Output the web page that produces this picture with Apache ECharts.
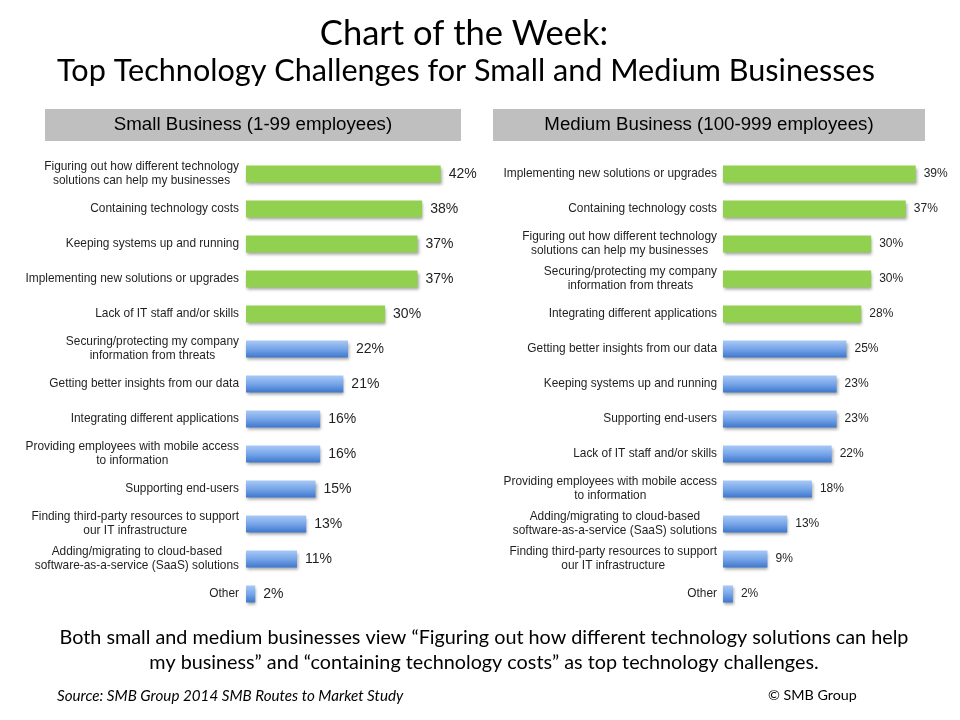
<!DOCTYPE html>
<html>
<head>
<meta charset="utf-8">
<title>Top Technology Challenges for Small and Medium Businesses</title>
<script src="https://cdn.jsdelivr.net/npm/echarts@6/dist/echarts.min.js"></script>
<style>
  html, body { margin: 0; padding: 0; background: #fff; }
  #chart { width: 960px; height: 720px; }
</style>
</head>
<body>
<div id="chart"></div>
<script>
// small business (1-99 employees)
const smallLabels = [
  'Figuring out how different technology\nsolutions can help my businesses',
  'Containing technology costs',
  'Keeping systems up and running',
  'Implementing new solutions or upgrades',
  'Lack of IT staff and/or skills',
  'Securing/protecting my company\ninformation from threats',
  'Getting better insights from our data',
  'Integrating different applications',
  'Providing employees with mobile access\nto information',
  'Supporting end-users',
  'Finding third-party resources to support\nour IT infrastructure',
  'Adding/migrating to cloud-based\nsoftware-as-a-service (SaaS) solutions',
  'Other'
]
const smallValues = [42, 38, 37, 37, 30, 22, 21, 16, 16, 15, 13, 11, 2]

// medium business (100-999 employees)
const mediumLabels = [
  'Implementing new solutions or upgrades',
  'Containing technology costs',
  'Figuring out how different technology\nsolutions can help my businesses',
  'Securing/protecting my company\ninformation from threats',
  'Integrating different applications',
  'Getting better insights from our data',
  'Keeping systems up and running',
  'Supporting end-users',
  'Lack of IT staff and/or skills',
  'Providing employees with mobile access\nto information',
  'Adding/migrating to cloud-based\nsoftware-as-a-service (SaaS) solutions',
  'Finding third-party resources to support\nour IT infrastructure',
  'Other'
]
const mediumValues = [39, 37, 30, 30, 28, 25, 23, 23, 22, 18, 13, 9, 2]

// top five are green, the rest blue
const topCount = 5

const chart = echarts.init(document.getElementById('chart'))

const green = '#92d050'
const blue = new echarts.graphic.LinearGradient(0, 0, 0, 1, [
  { offset: 0, color: '#a8c9f6' },
  { offset: 0.5, color: '#77a5e8' },
  { offset: 1, color: '#3d77cd' }
])
const textColor = '#1f1f1f'
const arial = 'Arial, "Liberation Sans", sans-serif'
const calibri = 'Lato, "Open Sans", sans-serif'

function barData(values) {
  return values.map((v, i) => ({
    value: v,
    itemStyle: { color: i < topCount ? green : blue }
  }))
}

// multi-line labels centred inside their block
function catLabel(value) {
  return value.split('\n').map((s) => '{c|' + s + '}').join('\n')
}

const labelRich = {
  c: { align: 'center', fontSize: 11.9, lineHeight: 14, color: textColor, fontFamily: arial }
}

const barShadow = {
  shadowColor: 'rgba(0, 0, 0, 0.35)',
  shadowBlur: 3,
  shadowOffsetX: 1,
  shadowOffsetY: 2
}

const option = {
  backgroundColor: '#fff',
  animation: false,
  title: [
    {
      text: 'Chart of the Week:',
      left: 459, top: 11, textAlign: 'center',
      textStyle: { fontFamily: calibri, fontWeight: 'normal', fontSize: 34.5, color: '#000' }
    },
    {
      text: 'Top Technology Challenges for Small and Medium Businesses',
      left: 461, top: 51, textAlign: 'center',
      textStyle: { fontFamily: calibri, fontWeight: 'normal', fontSize: 30.6, color: '#000' }
    }
  ],
  grid: [
    { left: 246, top: 156.5, width: 231.8, height: 455 },
    { left: 723, top: 156.5, width: 222.3, height: 455 }
  ],
  xAxis: [
    { type: 'value', gridIndex: 0, min: 0, max: 50, show: false },
    { type: 'value', gridIndex: 1, min: 0, max: 45, show: false }
  ],
  yAxis: [
    {
      type: 'category', gridIndex: 0, data: smallLabels, inverse: true,
      axisLine: { show: false }, axisTick: { show: false },
      axisLabel: { margin: 7, formatter: catLabel, rich: labelRich }
    },
    {
      type: 'category', gridIndex: 1, data: mediumLabels, inverse: true,
      axisLine: { show: false }, axisTick: { show: false },
      axisLabel: { margin: 6, formatter: catLabel, rich: labelRich }
    }
  ],
  series: [
    {
      name: 'Small Business',
      type: 'bar',
      xAxisIndex: 0, yAxisIndex: 0,
      barWidth: 17,
      data: barData(smallValues),
      itemStyle: barShadow,
      label: {
        show: true, position: 'right', distance: 8, formatter: '{c}%',
        fontSize: 14, color: textColor, fontFamily: arial
      }
    },
    {
      name: 'Medium Business',
      type: 'bar',
      xAxisIndex: 1, yAxisIndex: 1,
      barWidth: 17,
      data: barData(mediumValues),
      itemStyle: barShadow,
      label: {
        show: true, position: 'right', distance: 8, formatter: '{c}%',
        fontSize: 12, color: textColor, fontFamily: arial
      }
    }
  ],
  graphic: [
    // header boxes
    {
      type: 'rect', left: 45, top: 109,
      shape: { width: 416, height: 32 },
      style: { fill: '#bfbfbf' }
    },
    {
      type: 'text', x: 253, y: 125,
      style: {
        text: 'Small Business (1-99 employees)', align: 'center', verticalAlign: 'middle',
        font: '18.7px ' + arial, fill: '#000'
      }
    },
    {
      type: 'rect', left: 493, top: 109,
      shape: { width: 432, height: 32 },
      style: { fill: '#bfbfbf' }
    },
    {
      type: 'text', x: 709, y: 125,
      style: {
        text: 'Medium Business (100-999 employees)', align: 'center', verticalAlign: 'middle',
        font: '18.7px ' + arial, fill: '#000'
      }
    },
    // takeaway
    {
      type: 'text', x: 484, y: 638,
      style: {
        text: 'Both small and medium businesses view \u201cFiguring out how different technology solutions can help',
        align: 'center', verticalAlign: 'middle', font: '19.8px ' + calibri, fill: '#000'
      }
    },
    {
      type: 'text', x: 484, y: 663,
      style: {
        text: 'my business\u201d and \u201ccontaining technology costs\u201d as top technology challenges.',
        align: 'center', verticalAlign: 'middle', font: '19.8px ' + calibri, fill: '#000'
      }
    },
    // footer
    {
      type: 'text', x: 57, y: 696,
      style: {
        text: 'Source: SMB Group 2014 SMB Routes to Market Study',
        align: 'left', verticalAlign: 'middle', font: 'italic 15.2px ' + calibri, fill: '#000'
      }
    },
    {
      type: 'text', x: 768, y: 695,
      style: {
        text: '\u00a9 SMB Group',
        align: 'left', verticalAlign: 'middle', font: '14.3px ' + calibri, fill: '#000'
      }
    }
  ]
}

chart.setOption(option)
</script>
</body>
</html>
